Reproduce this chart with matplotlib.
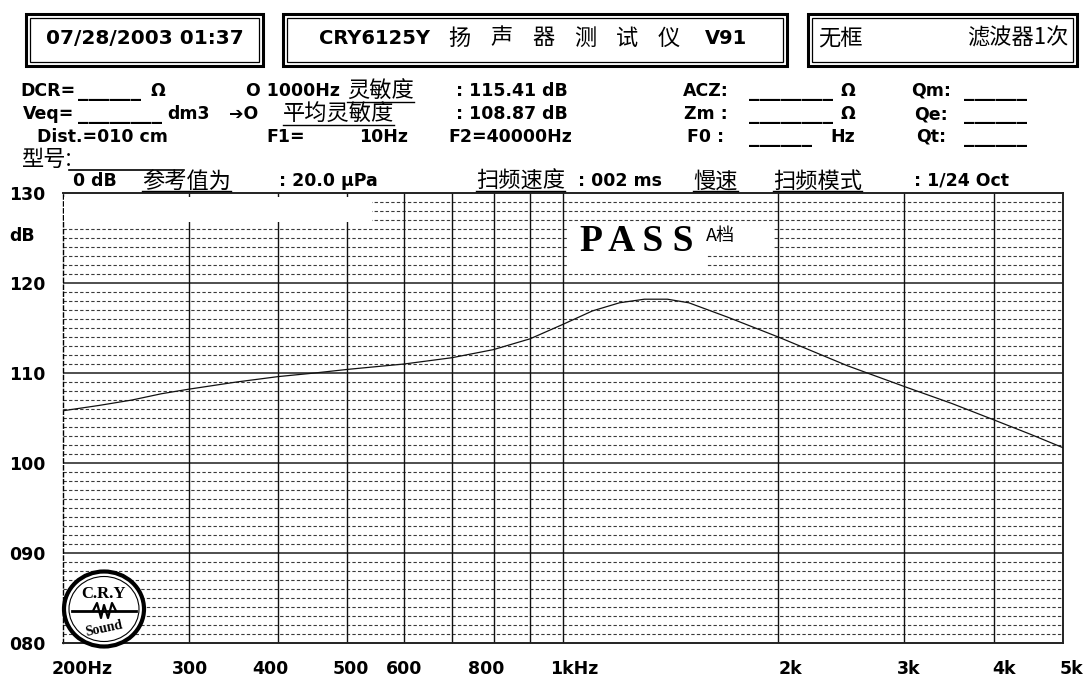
import matplotlib
matplotlib.use("Agg")
import matplotlib.pyplot as plt
from matplotlib.patches import Rectangle, Ellipse
from matplotlib.lines import Line2D
from matplotlib.ticker import NullLocator, NullFormatter
from matplotlib.transforms import ScaledTranslation

# ---------------- data ----------------
freq_hz = [200, 225, 250, 275, 300, 350, 400, 450, 500, 600, 700, 800, 900,
           1000, 1100, 1200, 1300, 1400, 1500, 1700, 2000, 2500, 3000, 3500,
           4000, 4500, 5000]
spl_db = [105.8, 106.4, 107.0, 107.7, 108.2, 109.0, 109.6, 110.0, 110.4,
          111.0, 111.7, 112.6, 113.8, 115.4, 116.9, 117.8, 118.2, 118.2,
          117.8, 116.2, 114.0, 110.8, 108.5, 106.6, 104.8, 103.2, 101.7]

x_ticks = [200, 300, 400, 500, 600, 800, 1000, 2000, 3000, 4000, 5000]
x_tick_labels = ["200Hz", "300", "400", "500", "600", "800", "1kHz",
                 "2k", "3k", "4k", "5k"]
x_grid_major = [300, 400, 500, 600, 700, 800, 900, 1000, 2000, 3000, 4000]
y_ticks = [80, 90, 100, 110, 120, 130]
y_tick_labels = ["080", "090", "100", "110", "120", "130"]
y_grid_major = [90, 100, 110, 120]

# ---------------- figure ----------------
W, H = 1088, 678
fig = plt.figure(figsize=(W / 100, H / 100), dpi=100)
fig.patch.set_facecolor("white")

LAT = ["DejaVu Sans"]
MONO = ["DejaVu Sans Mono"]
CJK = ["Noto Sans CJK SC", "DejaVu Sans"]


def fx(x):
    return x / W


def fy(y):
    return 1 - y / H


def T(x, y, s, size=12.5, fam=LAT, weight="bold", ha="left", va="center", **kw):
    return fig.text(fx(x), fy(y), s, fontsize=size, family=fam,
                    fontweight=weight, ha=ha, va=va, color="black", **kw)


def TC(x0, x1, y, s, **kw):
    return T((x0 + x1) / 2, y, s, ha="center", **kw)


def hline(x0, x1, y, lw=1.0, color="black", z=2):
    fig.add_artist(Line2D([fx(x0), fx(x1)], [fy(y), fy(y)], lw=lw,
                          color=color, transform=fig.transFigure, zorder=z))


def rect(x0, y0, x1, y1, lw=1.0, fill=False, fc="white", ec="black", z=1):
    fig.add_artist(Rectangle((fx(x0), fy(y1)), fx(x1) - fx(x0), (y1 - y0) / H,
                             transform=fig.transFigure, fill=fill, fc=fc,
                             ec=ec, lw=lw, zorder=z))


def dbl_box(x0, y0, x1, y1):
    rect(x0, y0, x1, y1, lw=2.2)
    rect(x0 + 4, y0 + 4, x1 - 4, y1 - 4, lw=0.9)


# ---------------- axes ----------------
L, R, TOP, BOT = 62.7, 1063, 193, 643
ax = fig.add_axes([fx(L), fy(BOT), fx(R) - fx(L), (BOT - TOP) / H])
ax.set_xscale("log")
ax.set_xlim(200, 5000)
ax.set_ylim(80, 130)
ax.set_facecolor("white")

for v in range(81, 130):
    if v % 10:
        ax.axhline(v, color="#3a3a3a", lw=0.8, ls=(0, (3, 2)), zorder=1)
for v in y_grid_major:
    ax.axhline(v, color="#404040", lw=1.3, zorder=1.5)
for f in x_grid_major:
    ax.axvline(f, color="#111111", lw=1.0, zorder=1.5)

ax.plot(freq_hz, spl_db, color="#111111", lw=0.9, zorder=3)

for side in ["top", "right", "bottom"]:
    ax.spines[side].set_linewidth(1.4)
    ax.spines[side].set_color("#222222")
ax.spines["left"].set_linestyle((0, (3, 2)))
ax.spines["left"].set_linewidth(1.0)

ax.xaxis.set_minor_locator(NullLocator())
ax.xaxis.set_minor_formatter(NullFormatter())
ax.set_xticks(x_ticks)
ax.set_xticklabels(x_tick_labels, fontsize=12.5, fontweight="bold", family=LAT)
ax.set_yticks(y_ticks)
ax.set_yticklabels(y_tick_labels, fontsize=12.5, fontweight="bold", family=LAT)
ax.tick_params(axis="x", length=0, pad=12)
ax.tick_params(axis="y", length=0, pad=12.7)

# small horizontal shifts of the x labels as placed in the reference (pixels)
label_shift_px = [19, 1, -8, 3, 0, -7, 11, 12, 4, 10, 8]
for lab, dx in zip(ax.get_xticklabels(), label_shift_px):
    lab.set_transform(lab.get_transform() +
                      ScaledTranslation(dx / 100, 0, fig.dpi_scale_trans))

# white areas inside the plot
rect(L + 1, 197, 372, 222, lw=0, fill=True, ec="none", z=2)
rect(567, 222, 707, 273, lw=0, fill=True, ec="none", z=2)
rect(707, 222, 773, 252, lw=0, fill=True, ec="none", z=2)
T(580, 241, "P A S S", size=27, fam=["Liberation Serif"], weight="bold", zorder=3)
T(706, 236, "A档", size=13, fam=CJK, weight="normal", zorder=3)

T(9, 236, "dB", size=12.5)

# ---------------- header boxes ----------------
dbl_box(26, 14, 263, 66)
TC(33, 257, 39, "07/28/2003 01:37", size=14.5)
dbl_box(283, 14, 787, 66)
TC(323, 427, 39, "CRY6125Y", size=14)
for i, ch in enumerate("扬声器测试仪"):
    T(448 + i * 42, 38, ch, size=16, fam=CJK, weight="normal")
TC(707, 745, 39, "V91", size=14)
dbl_box(808, 14, 1077, 66)
T(818, 38, "无框", size=16, fam=CJK, weight="normal")
T(1068, 38, "滤波器1次", size=16, fam=CJK, weight="normal", ha="right")

# ---------------- info rows ----------------
ul_texts = []
yA, yB, yC, yD, yE = 91, 114, 137, 159, 181


def blank(x, y, n):
    T(x, y + 1, "_" * n, size=12.5, fam=MONO)


# row A
TC(22, 75, yA, "DCR=")
blank(78, yA, 6)
TC(153, 163, yA, "Ω")
TC(240, 345, yA, "O 1000Hz")
ul_texts.append(T(347, yA, "灵敏度", size=16, fam=CJK, weight="normal"))
TC(436, 587, yA, ": 115.41 dB")
TC(679, 733, yA, "ACZ:")
blank(749, yA, 8)
TC(843, 853, yA, "Ω")
TC(912, 950, yA, "Qm:")
blank(964, yA, 6)

# row B
TC(22, 75, yB, "Veq=")
blank(78, yB, 8)
TC(170, 208, yB, "dm3")
TC(224, 264, yB, "➔O", fam=["DejaVu Sans"])
ul_texts.append(T(283, yB, "平均灵敏度", size=16, fam=CJK, weight="normal"))
TC(436, 587, yB, ": 108.87 dB")
TC(679, 733, yB, "Zm :")
blank(749, yB, 8)
TC(843, 853, yB, "Ω")
TC(912, 950, yB, "Qe:")
blank(964, yB, 6)

# row C
TC(22, 182, yC, "Dist.=010 cm")
TC(269, 302, yC, "F1=")
TC(351, 417, yC, "10Hz")
TC(434, 587, yC, "F2=40000Hz")
TC(679, 733, yC, "F0 :")
blank(749, yC, 6)
TC(832, 853, yC, "Hz")
TC(912, 950, yC, "Qt:")
blank(964, yC, 6)

# row D
T(22, yD, "型号:", size=16, fam=CJK, weight="normal")
hline(69, 184, 170, lw=1.2)

# row E
TC(71, 118, yE, "0 dB")
ul_texts.append(T(142, yE, "参考值为", size=16, fam=CJK, weight="normal"))
TC(264, 392, yE, ": 20.0 μPa")
ul_texts.append(T(476, yE, "扫频速度", size=16, fam=CJK, weight="normal"))
TC(579, 662, yE, ": 002 ms")
ul_texts.append(T(693, yE, "慢速", size=16, fam=CJK, weight="normal"))
ul_texts.append(T(773, yE, "扫频模式", size=16, fam=CJK, weight="normal"))
TC(895, 1028, yE, ": 1/24 Oct")

# underline CJK words
fig.canvas.draw()
rend = fig.canvas.get_renderer()
for t in ul_texts:
    bb = t.get_window_extent(rend)
    hline(bb.x0, bb.x1, H - bb.y0 - 1, lw=1.0)

# ---------------- logo ----------------
ins = fig.dpi_scale_trans
cx, cy = 104, 609
fig.add_artist(Ellipse((cx / 100, (H - cy) / 100), 0.80, 0.75, transform=ins,
                       fc="white", ec="black", lw=3.0, zorder=4))
fig.add_artist(Ellipse((cx / 100, (H - cy) / 100), 0.70, 0.65, transform=ins,
                       fill=False, ec="black", lw=0.8, zorder=4))
T(cx, 594, "C.R.Y", size=12, fam=["Liberation Serif"], ha="center", zorder=5)
hline(72, 136, 611, lw=2.0, z=5)
fig.add_artist(Line2D([fx(93), fx(97), fx(101), fx(104), fx(108), fx(112), fx(116)],
                      [fy(611), fy(603), fy(618), fy(605), fy(618), fy(603), fy(611)],
                      lw=1.6, color="black", transform=fig.transFigure, zorder=5))
T(cx, 629, "Sound", size=10, fam=["Liberation Serif"], ha="center",
  rotation=12, zorder=5)

fig.savefig("out.png", dpi=100, facecolor="white")
